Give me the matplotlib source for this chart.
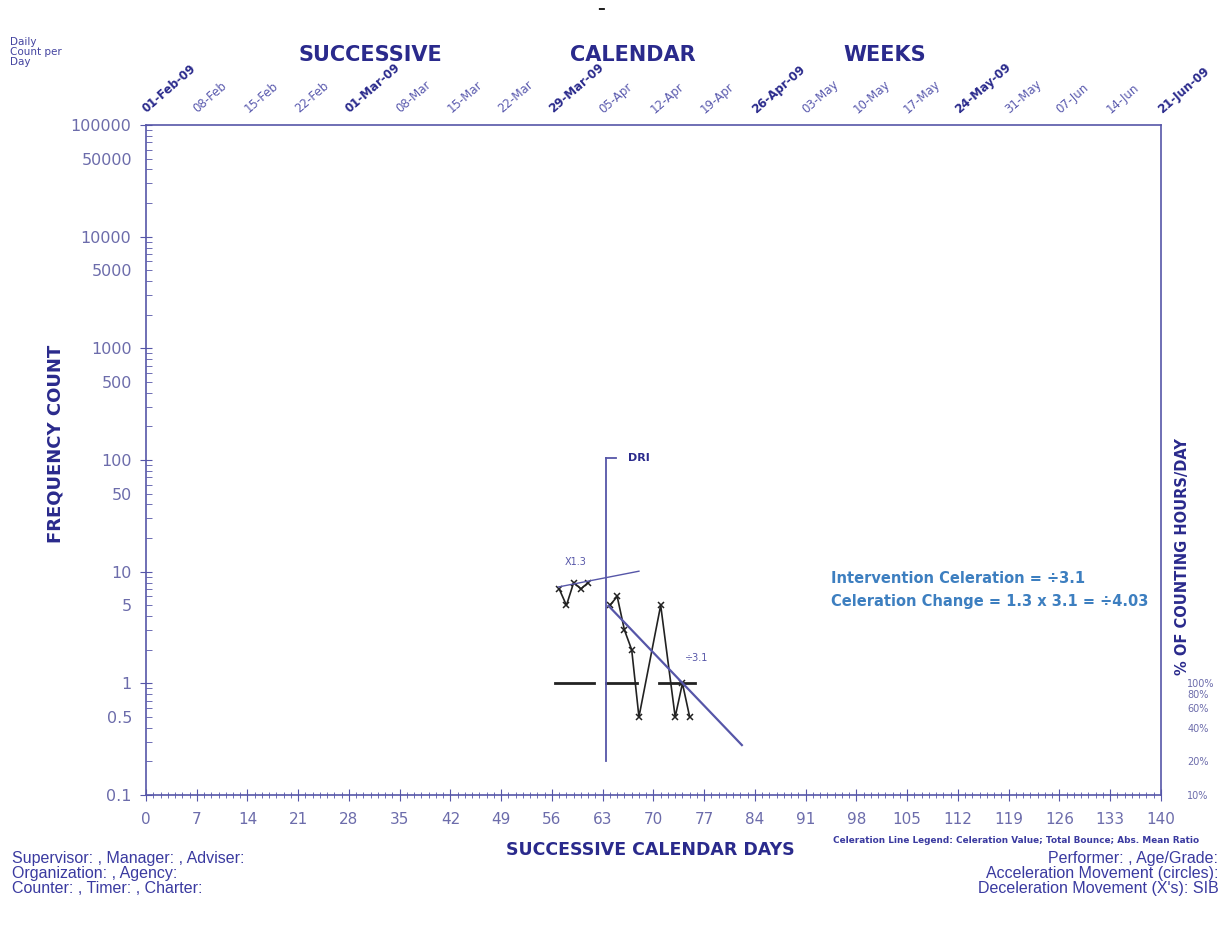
import numpy as np
import matplotlib.pyplot as plt
from matplotlib import transforms

# --- data ---
base_days = [57, 58, 59, 60, 61]
base_vals = [7, 5, 8, 7, 8]

int_days = [64, 65, 66, 67, 68, 71, 73, 74, 75]
int_vals = [5, 6, 3, 2, 0.5, 5, 0.5, 1, 0.5]

cel1_days = [56.9, 68.0]
cel1_vals = [7.3, 10.1]
cel2_days = [63.8, 82.2]
cel2_vals = [4.95, 0.28]

floor_segments = [(56.4, 61.8), (63.5, 67.7), (70.7, 75.7)]
floor_val = 1

dri_day = 63.5
dri_range = [0.2, 104]

week_labels = ["01-Feb-09", "08-Feb", "15-Feb", "22-Feb", "01-Mar-09", "08-Mar",
               "15-Mar", "22-Mar", "29-Mar-09", "05-Apr", "12-Apr", "19-Apr",
               "26-Apr-09", "03-May", "10-May", "17-May", "24-May-09", "31-May",
               "07-Jun", "14-Jun", "21-Jun-09"]
week_days = list(range(0, 141, 7))

y_major = [0.1, 1, 10, 100, 1000, 10000, 100000]
pct_vals = [1, 0.8, 0.6, 0.4, 0.2, 0.1]
pct_labels = ["100%", "80%", "60%", "40%", "20%", "10%"]

AX = "#5656a8"
LBL = "#6c6cab"
DARK = "#2a2a8c"
CEL = "#3d7fc0"
INFO = "#3a3aa0"

plt.rcParams['font.family'] = ['DejaVu Sans']

fig = plt.figure(figsize=(12.27, 9.33), dpi=100)
ax = fig.add_axes([0.119, 0.1479, 0.8271, 0.7181])
ax.set_yscale('log')
ax.set_xlim(0, 140)
ax.set_ylim(0.1, 100000)

for s in ax.spines.values():
    s.set_color(AX)
    s.set_linewidth(1.2)

# x ticks
ax.set_xticks(week_days)
ax.set_xticks(range(0, 141), minor=True)
ax.tick_params(axis='x', which='major', direction='inout', length=9, color=AX,
               labelsize=11, labelcolor=LBL, pad=8)
ax.tick_params(axis='x', which='minor', direction='inout', length=4, color=AX)

# y ticks
ax.set_yticks(y_major, labels=["0.1", "1", "10", "100", "1000", "10000", "100000"])
minor_vals, minor_labels = [], []
for d in y_major[:-1]:
    for k in range(2, 10):
        minor_vals.append(d * k)
        minor_labels.append(str(d * k if d >= 1 else 0.5) if k == 5 else "")
ax.set_yticks(minor_vals, labels=minor_labels, minor=True)
ax.tick_params(axis='y', which='major', direction='inout', length=9, color=AX,
               labelsize=11.5, labelcolor=LBL, pad=6)
ax.tick_params(axis='y', which='minor', direction='in', length=4, color=AX,
               labelsize=11.5, labelcolor=LBL, pad=10)

# right percent axis
ax2 = ax.twinx()
ax2.set_yscale('log')
ax2.set_ylim(0.1, 100000)
ax2.set_yticks(pct_vals, labels=pct_labels)
ax2.set_yticks([], minor=True)
ax2.tick_params(axis='y', length=0, labelsize=7, labelcolor=LBL, pad=19)
for s in ax2.spines.values():
    s.set_visible(False)

# data
ax.plot(base_days, base_vals, color='#222222', lw=1.2, marker='x', ms=5, mew=1.1)
ax.plot(int_days, int_vals, color='#222222', lw=1.2, marker='x', ms=5, mew=1.1)
for a, b in floor_segments:
    ax.plot([a, b], [floor_val, floor_val], color='#222222', lw=2)
ax.plot(cel1_days, cel1_vals, color=AX, lw=1.0)
ax.plot(cel2_days, cel2_vals, color=AX, lw=1.6)
ax.text(59.2, 12.2, "X1.3", color=AX, fontsize=7, ha='center', va='center')
ax.text(76.0, 1.68, "÷3.1", color=AX, fontsize=7, ha='center', va='center')

# DRI phase line
ax.plot([dri_day, dri_day], dri_range, color=AX, lw=1.3)
ax.plot([dri_day, dri_day + 1.4], [dri_range[1], dri_range[1]], color=AX, lw=1.3)
ax.text(dri_day + 3, dri_range[1], "DRI", color=DARK, fontsize=8, fontweight='bold',
        ha='left', va='center')

# celeration notes
ax.text(94.5, 8.6, "Intervention Celeration = ÷3.1", color=CEL, fontsize=10.5,
        fontweight='bold', ha='left', va='center')
ax.text(94.5, 5.4, "Celeration Change = 1.3 x 3.1 = ÷4.03", color=CEL, fontsize=10.5,
        fontweight='bold', ha='left', va='center')

# top week labels
trans = transforms.blended_transform_factory(ax.transData, ax.transAxes)
for d, lab in zip(week_days, week_labels):
    bold = lab.endswith("-09")
    ax.text(d + 0.4, 1.014, lab, transform=trans, rotation=41, rotation_mode='anchor',
            ha='left', va='bottom', fontsize=8.5,
            fontweight='bold' if bold else 'normal', color=DARK if bold else "#5a5aae")

# titles and labels
for x, t in [(0.302, "SUCCESSIVE"), (0.516, "CALENDAR"), (0.721, "WEEKS")]:
    fig.text(x, 0.941, t, ha='center', va='center', fontsize=15, fontweight='bold', color=DARK)
fig.text(0.008, 0.944, "Daily\nCount per\nDay", ha='left', va='center', fontsize=7.5,
         color="#4444a0", linespacing=1.0)
fig.text(0.045, 0.524, "FREQUENCY COUNT", rotation=90, ha='center', va='center',
         fontsize=13, fontweight='bold', color=DARK)
fig.text(0.964, 0.403, "% OF COUNTING HOURS/DAY", rotation=90, ha='center', va='center',
         fontsize=10.5, fontweight='bold', color=DARK)
fig.text(0.53, 0.089, "SUCCESSIVE CALENDAR DAYS", ha='center', va='center',
         fontsize=12.5, fontweight='bold', color=DARK)
fig.text(0.679, 0.0995, "Celeration Line Legend: Celeration Value; Total Bounce; Abs. Mean Ratio",
         ha='left', va='center', fontsize=6.4, fontweight='bold', color=INFO)
fig.text(0.49, 0.991, "–", ha='center', va='center', fontsize=11, fontweight='bold', color='#222222')

fig.text(0.01, 0.064, "Supervisor: , Manager: , Adviser:\nOrganization: , Agency:\nCounter: , Timer: , Charter:",
         ha='left', va='center', fontsize=11.5, color=INFO, linespacing=1.0,
         family='Liberation Sans')
fig.text(0.993, 0.064, "Performer: , Age/Grade:\nAcceleration Movement (circles):\nDeceleration Movement (X's): SIB",
         ha='right', va='center', fontsize=11.5, color=INFO, linespacing=1.0,
         multialignment='right', family='Liberation Sans')

fig.savefig("out.png", dpi=100, facecolor='white')
